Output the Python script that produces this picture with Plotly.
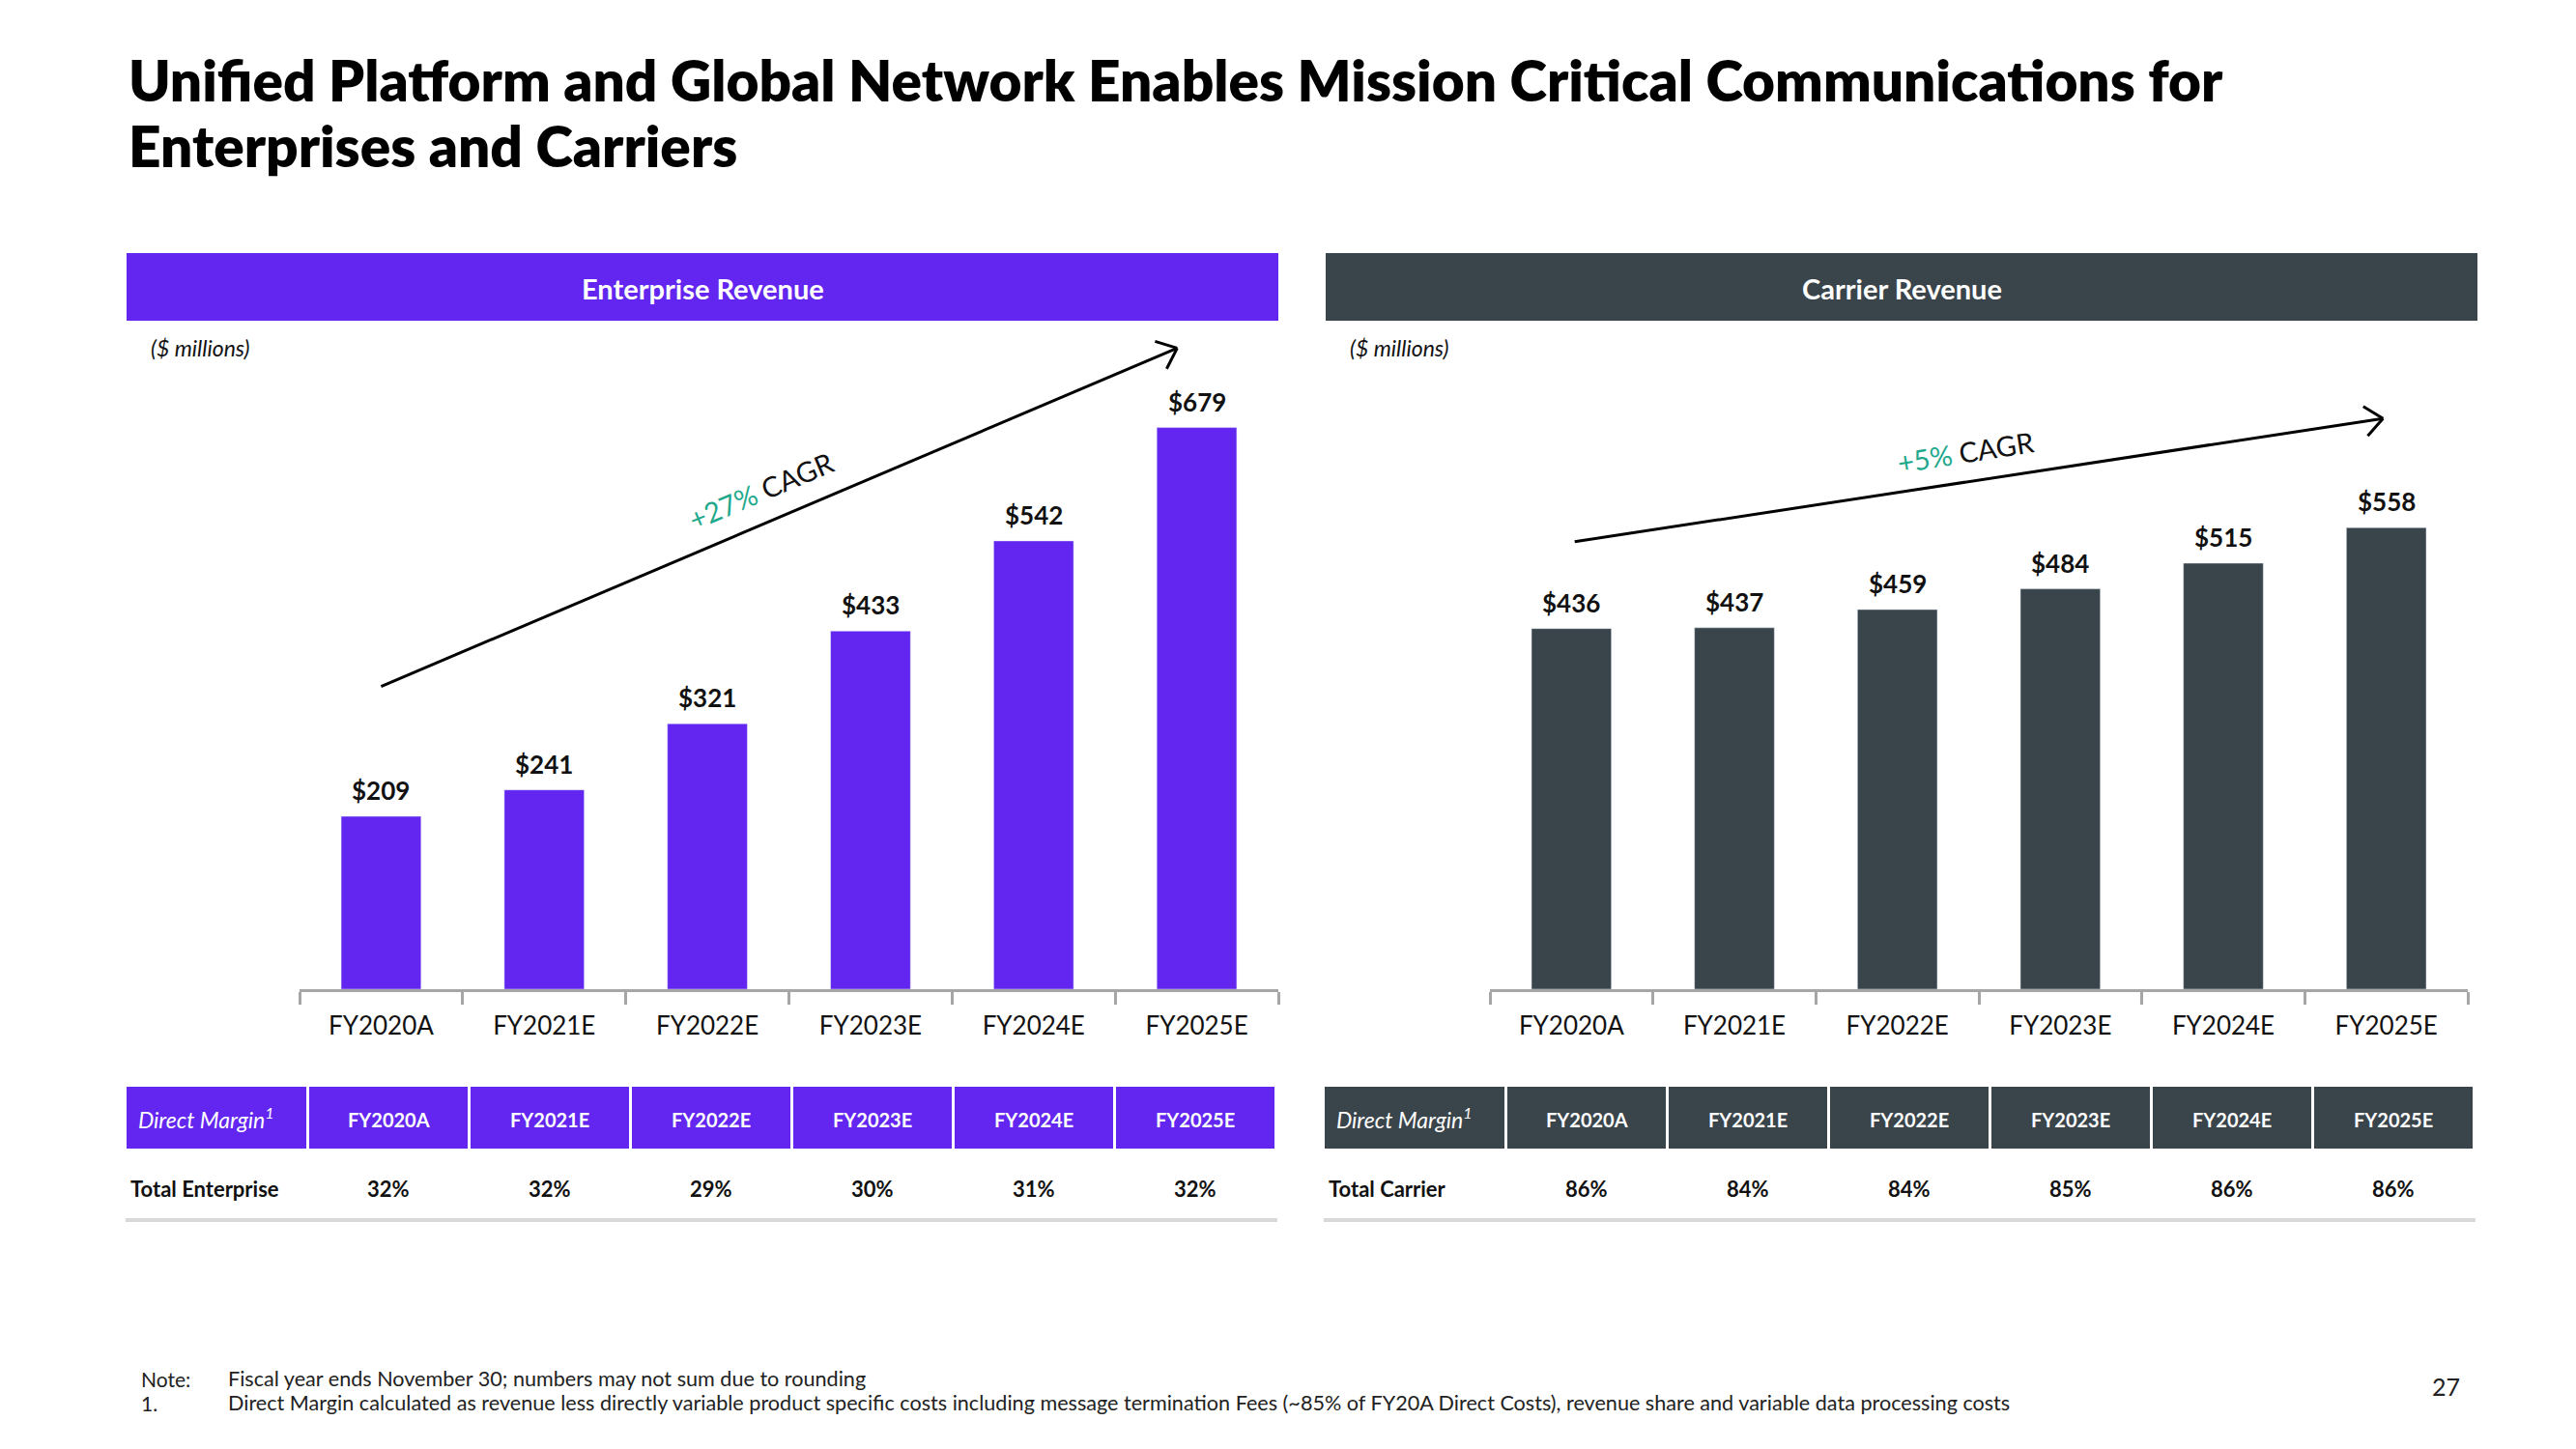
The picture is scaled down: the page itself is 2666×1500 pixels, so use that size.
import math
import plotly.graph_objects as go

W, H = 2666, 1500

# ---------------- data ----------------
categories = ["FY2020A", "FY2021E", "FY2022E", "FY2023E", "FY2024E", "FY2025E"]
enterprise_revenue = [209, 241, 321, 433, 542, 679]
carrier_revenue = [436, 437, 459, 484, 515, 558]
enterprise_margin = ["32%", "32%", "29%", "30%", "31%", "32%"]
carrier_margin = ["86%", "84%", "84%", "85%", "86%", "86%"]
enterprise_cagr = "+27%"
carrier_cagr = "+5%"
title_lines = [
    "Unified Platform and Global Network Enables Mission Critical Communications for",
    "Enterprises and Carriers",
]
panel_titles = ["Enterprise Revenue", "Carrier Revenue"]
row_labels = ["Total Enterprise", "Total Carrier"]
unit_label = "($ millions)"
note_lines = [
    ("Note:", "Fiscal year ends November 30; numbers may not sum due to rounding"),
    ("1.", "Direct Margin calculated as revenue less directly variable product specific costs including message "
           "termination Fees (~85% of FY20A Direct Costs), revenue share and variable data processing costs"),
]
page_number = "27"

# ---------------- style ----------------
FONT = "Lato"
PURPLE = "#6226F0"
SLATE = "#3A444B"
TEAL = "#1FA98C"
AXIS_GRAY = "#A6A6A6"
LINE_GRAY = "#D9D9D9"
TEXT = "#111111"

Y_MAX = 800
Y_DOMAIN = [1 - 1024 / H, 1 - 339 / H]
X_DOMAINS = [[310 / W, 1323 / W], [1542 / W, 2554 / W]]


def px(x):
    return x / W


def py(y):
    return 1 - y / H


def note(x, y, text, size, color=TEXT, xanchor="center", weight="normal", **kw):
    d = dict(x=px(x), y=py(y), xref="paper", yref="paper", showarrow=False, xanchor=xanchor,
             yanchor="middle", text=text, font=dict(family=FONT, size=size, color=color, weight=weight))
    d.update(kw)
    return d


fig = go.Figure()

fig.add_trace(go.Bar(x=categories, y=enterprise_revenue, marker_color=PURPLE,
                     xaxis="x", yaxis="y", hoverinfo="skip"))
fig.add_trace(go.Bar(x=categories, y=carrier_revenue, marker_color=SLATE,
                     xaxis="x2", yaxis="y2", hoverinfo="skip"))

annotations = []
shapes = []

# data labels
for axn, vals in (("", enterprise_revenue), ("2", carrier_revenue)):
    for c, v in zip(categories, vals):
        annotations.append(dict(x=c, y=v, xref="x" + axn, yref="y" + axn, text=f"${v}",
                                showarrow=False, xanchor="center", yanchor="middle", yshift=27,
                                font=dict(family=FONT, size=26, color=TEXT, weight="bold")))

# CAGR arrows (data coordinates)
arrows = [
    dict(axn="", x0=0.0, y0=366, x1=4.88, y1=775, tx=2.33, ty=603, ang=-23, cagr=enterprise_cagr),
    dict(axn="2", x0=0.02, y0=541, x1=4.98, y1=690, tx=2.42, ty=650, ang=-9, cagr=carrier_cagr),
]
for i, a in enumerate(arrows):
    dom = X_DOMAINS[i]
    sx = (dom[1] - dom[0]) * W / 6.0
    sy = (Y_DOMAIN[1] - Y_DOMAIN[0]) * H / Y_MAX
    xr, yr = "x" + a["axn"], "y" + a["axn"]
    shapes.append(dict(type="line", xref=xr, yref=yr, x0=a["x0"], y0=a["y0"], x1=a["x1"], y1=a["y1"],
                       line=dict(color="black", width=3)))
    ang = math.atan2((a["y1"] - a["y0"]) * sy, (a["x1"] - a["x0"]) * sx)
    L = 24
    for s in (1, -1):
        t = ang + s * math.radians(40)
        shapes.append(dict(type="line", xref=xr, yref=yr, x0=a["x1"], y0=a["y1"],
                           x1=a["x1"] - L * math.cos(t) / sx, y1=a["y1"] - L * math.sin(t) / sy,
                           line=dict(color="black", width=3)))
    annotations.append(dict(x=a["tx"], y=a["ty"], xref=xr, yref=yr, showarrow=False, textangle=a["ang"],
                            xanchor="center", yanchor="middle",
                            text=f"<span style='color:{TEAL}'>{a['cagr']}</span> CAGR",
                            font=dict(family=FONT, size=29, color="#111111")))

# title
for j, t in enumerate(title_lines):
    annotations.append(note(131, 82 + j * 68, t, 58.5, color="black", xanchor="left", weight=800))

# panels
panel_x = [(131, 1323), (1372, 2564)]
panel_colors = [PURPLE, SLATE]
table_x0 = [131, 1371]
margins = [enterprise_margin, carrier_margin]
for i in range(2):
    x0, x1 = panel_x[i]
    shapes.append(dict(type="rect", xref="paper", yref="paper", x0=px(x0), x1=px(x1), y0=py(332), y1=py(262),
                       fillcolor=panel_colors[i], line=dict(width=0), layer="below"))
    annotations.append(note((x0 + x1) / 2, 298, panel_titles[i], 29, color="white", weight="bold"))
    annotations.append(note(x0 + 23, 360, f"<i>{unit_label}</i>", 23, xanchor="left"))
    # table
    tx0 = table_x0[i]
    first_w = 186
    cells = [(tx0, tx0 + first_w)]
    start = tx0 + first_w + 3
    for k in range(len(categories)):
        cells.append((start + k * 167, start + k * 167 + 164))
    for k, (c0, c1) in enumerate(cells):
        shapes.append(dict(type="rect", xref="paper", yref="paper", x0=px(c0), x1=px(c1), y0=py(1189),
                           y1=py(1125), fillcolor=panel_colors[i], line=dict(width=0), layer="below"))
        if k == 0:
            annotations.append(note(c0 + 10, 1157, "<i>Direct Margin<sup>1</sup></i>", 23,
                                    color="white", xanchor="left"))
            annotations.append(note(c0 + 2, 1230, row_labels[i], 22, xanchor="left", weight="bold"))
        else:
            annotations.append(note((c0 + c1) / 2, 1159, categories[k - 1], 20, color="white", weight="bold"))
            annotations.append(note((c0 + c1) / 2, 1230, margins[i][k - 1], 22, weight="bold"))
    shapes.append(dict(type="line", xref="paper", yref="paper", x0=px(tx0 - 1), x1=px(cells[-1][1] + 3),
                       y0=py(1263), y1=py(1263), line=dict(color=LINE_GRAY, width=4)))

# notes
for j, (lab, txt) in enumerate(note_lines):
    yy = 1427 + j * 25
    annotations.append(note(144, yy, lab, 21, color="#222222", xanchor="left"))
    annotations.append(note(234, yy, txt, 21.6, color="#222222", xanchor="left"))
annotations.append(note(2531, 1435, page_number, 25, color="#222222"))

xaxis_common = dict(type="category", range=[-0.5, 5.5], showline=True, linecolor=AXIS_GRAY, linewidth=3,
                    ticks="outside", tickson="boundaries", ticklen=13, tickwidth=3, tickcolor=AXIS_GRAY,
                    showgrid=False, zeroline=False, ticklabelstandoff=13,
                    tickfont=dict(family=FONT, size=26, color=TEXT), fixedrange=True)
yaxis_common = dict(range=[0, Y_MAX], domain=Y_DOMAIN, visible=False, fixedrange=True)

fig.update_layout(
    width=W, height=H, margin=dict(l=0, r=0, t=0, b=0),
    paper_bgcolor="white", plot_bgcolor="white", showlegend=False, bargap=0.51,
    xaxis=dict(domain=X_DOMAINS[0], anchor="y", **xaxis_common),
    xaxis2=dict(domain=X_DOMAINS[1], anchor="y2", **xaxis_common),
    yaxis=dict(anchor="x", **yaxis_common),
    yaxis2=dict(anchor="x2", **yaxis_common),
    annotations=annotations, shapes=shapes,
    font=dict(family=FONT),
)

fig.write_html("out.html", config={"displayModeBar": False})
